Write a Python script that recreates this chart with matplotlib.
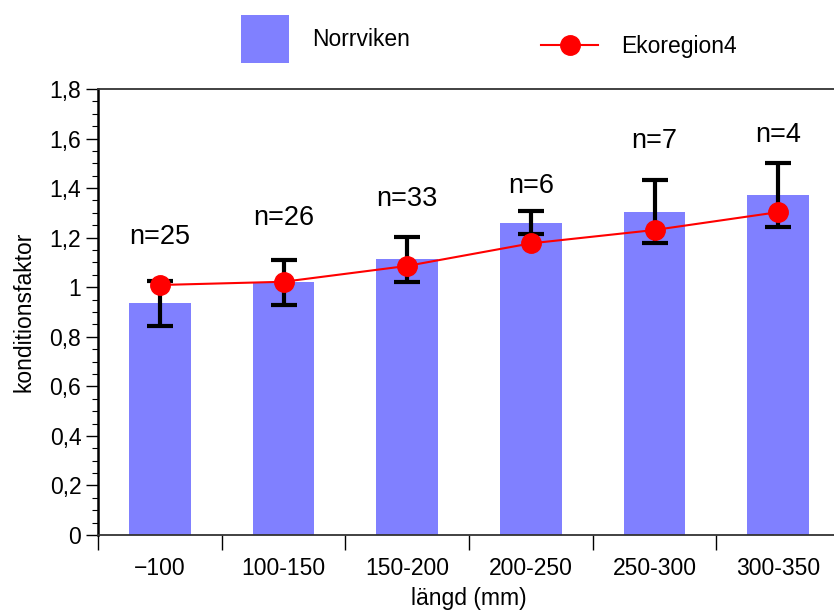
import matplotlib
matplotlib.use("Agg")
import matplotlib.pyplot as plt
from matplotlib.patches import Patch
from matplotlib.lines import Line2D
from matplotlib.ticker import MultipleLocator, FixedLocator, NullFormatter
import numpy as np

plt.rcParams['font.family'] = ['Liberation Sans', 'DejaVu Sans']

categories = ["\u2212100", "100-150", "150-200", "200-250", "250-300", "300-350"]
norrviken = [0.935, 1.02, 1.112, 1.261, 1.305, 1.372]
norrviken_err = [0.092, 0.091, 0.092, 0.048, 0.128, 0.130]
ekoregion4 = [1.009, 1.022, 1.086, 1.177, 1.231, 1.303]
n_labels = ["n=25", "n=26", "n=33", "n=6", "n=7", "n=4"]
n_label_y = [1.203, 1.278, 1.356, 1.410, 1.592, 1.613]
ytick_vals = [0, 0.2, 0.4, 0.6, 0.8, 1.0, 1.2, 1.4, 1.6, 1.8]
ytick_labels = ["0", "0,2", "0,4", "0,6", "0,8", "1", "1,2", "1,4", "1,6", "1,8"]

W, H = 834, 610
fig = plt.figure(figsize=(W / 100, H / 100), dpi=100)
left, right, bottom, top = 98, 840, 535, 89
ax = fig.add_axes([left / W, 1 - bottom / H, (right - left) / W, (bottom - top) / H])

x = np.arange(len(categories))
bar_color = "#8080FF"
ax.bar(x, norrviken, width=0.5, color=bar_color, zorder=2)
ax.errorbar(x, norrviken, yerr=norrviken_err, fmt="none", ecolor="black",
            elinewidth=3.0, capsize=9.5, capthick=3.0, zorder=3)
ax.plot(x, ekoregion4, color="red", lw=1.5, marker="o", markersize=14,
        markerfacecolor="red", markeredgecolor="red", zorder=4)

for xi, lab, yy in zip(x, n_labels, n_label_y):
    ax.text(xi, yy, lab, ha="center", va="center", fontsize=19.5, color="black")

ax.set_xlim(-0.5, len(categories) - 0.5)
ax.set_ylim(0, 1.8)

ax.xaxis.set_major_locator(FixedLocator(np.arange(-0.5, len(categories), 1.0)))
ax.xaxis.set_major_formatter(NullFormatter())
ax.xaxis.set_minor_locator(FixedLocator(x))
ax.set_xticklabels(categories, minor=True)
ax.tick_params(axis="x", which="major", length=11, width=1.0, direction="out")
ax.tick_params(axis="x", which="minor", length=0, pad=16, labelsize=16.5)

ax.set_yticks(ytick_vals)
ax.set_yticklabels(ytick_labels)
ax.yaxis.set_minor_locator(MultipleLocator(0.05))
ax.tick_params(axis="y", which="major", length=9, width=1.0, direction="out", pad=3, labelsize=16.5)
ax.tick_params(axis="y", which="minor", length=4.5, width=0.8, direction="out")

ax.spines["left"].set_linewidth(1.8)
ax.spines["left"].set_color("black")
for s in ["top", "bottom"]:
    ax.spines[s].set_linewidth(1.3)
    ax.spines[s].set_color("#333333")
ax.spines["right"].set_visible(False)

ax.set_ylabel("konditionsfaktor", fontsize=16.5, labelpad=10)
ax.set_xlabel("längd (mm)", fontsize=16.5, labelpad=5)

fs = 16.5
em = fs / 0.72
side = 48 / em
hh = (side - 0.245) / 0.65
h1 = [Patch(facecolor=bar_color, edgecolor="none")]
fig.legend(h1, ["Norrviken"], loc="center left",
           bbox_to_anchor=(241 / W, 1 - 39 / H), frameon=False,
           fontsize=fs, handlelength=side, handleheight=hh,
           handletextpad=23 / em, borderpad=0, borderaxespad=0)
h2 = [Line2D([0], [0], color="red", lw=1.5, marker="o", markersize=14,
             markerfacecolor="red", markeredgecolor="red")]
fig.legend(h2, ["Ekoregion4"], loc="center left",
           bbox_to_anchor=(541 / W, 1 - 47 / H), frameon=False,
           fontsize=fs, handlelength=57 / em,
           handletextpad=23 / em, borderpad=0, borderaxespad=0)

fig.savefig("out.png", dpi=100)
